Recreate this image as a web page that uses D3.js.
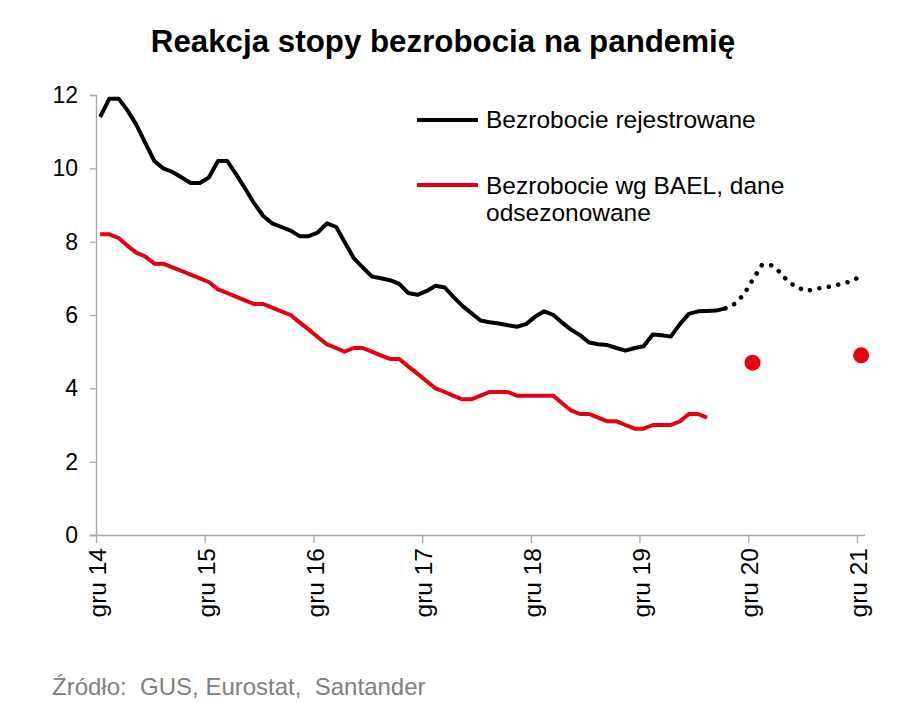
<!DOCTYPE html>
<html><head><meta charset="utf-8">
<script src="https://cdn.jsdelivr.net/npm/d3@7"></script>
<style>
body{margin:0;background:#fff;}
text{font-family:Arial,"Liberation Sans",sans-serif;}
</style></head>
<body><svg id="c" width="920" height="703"></svg>
<script>
// ---- data (monthly, first value = Dec 2014) ----
const startYear = 2014, startMonth = 11; // December 2014
const registered = [11.4,11.9,11.9,11.6,11.2,10.7,10.2,10.0,9.9,9.75,9.6,9.6,9.75,10.2,10.2,9.85,9.45,9.05,8.7,8.5,8.4,8.3,8.15,8.15,8.25,8.5,8.4,8.0,7.55,7.3,7.05,7.0,6.95,6.85,6.6,6.55,6.65,6.8,6.75,6.5,6.25,6.05,5.85,5.8,5.77,5.72,5.68,5.75,5.95,6.1,6.0,5.8,5.6,5.45,5.25,5.2,5.18,5.1,5.03,5.1,5.15,5.47,5.45,5.41,5.75,6.03,6.1,6.11,6.12,6.18];
// forecast, starts at month index 69 (Sep 2020)
const forecastStart = 69;
const registeredForecast = [6.18,6.3,6.55,6.95,7.36,7.36,7.18,6.9,6.75,6.65,6.72,6.75,6.8,6.86,6.93,7.07];
const bael = [8.2,8.2,8.1,7.9,7.7,7.6,7.4,7.4,7.3,7.2,7.1,7.0,6.9,6.7,6.6,6.5,6.4,6.3,6.3,6.2,6.1,6.0,5.8,5.6,5.4,5.2,5.1,5.0,5.1,5.1,5.0,4.9,4.8,4.8,4.6,4.4,4.2,4.0,3.9,3.8,3.7,3.7,3.8,3.9,3.9,3.9,3.8,3.8,3.8,3.8,3.8,3.6,3.4,3.3,3.3,3.2,3.1,3.1,3.0,2.9,2.9,3.0,3.0,3.0,3.1,3.3,3.3,3.2];
const baelForecastMonths = [72, 84]; // Dec 2020, Dec 2021
const baelForecast = [4.7, 4.9];
const xTickLabels = ["gru 14","gru 15","gru 16","gru 17","gru 18","gru 19","gru 20","gru 21"];
const yTicks = [0,2,4,6,8,10,12];
const title = "Reakcja stopy bezrobocia na pandemię";
const legendLabels = ["Bezrobocie rejestrowane", ["Bezrobocie wg BAEL, dane", "odsezonowane"]];
const source = "Źródło:  GUS, Eurostat,  Santander";

const RED = "#e3000f";
const monthDate = i => new Date(startYear, startMonth + i, 15);
const tickDates = xTickLabels.map((d, k) => new Date(startYear + k, 11, 1));

const svg = d3.select("#c");
const x = d3.scaleTime().domain([tickDates[0], tickDates[tickDates.length-1]]).range([96, 857]);
const y = d3.scaleLinear().domain([0, 12]).range([535, 95]);

// title
svg.append("text").attr("x", 443).attr("y", 52).attr("text-anchor","middle")
  .attr("font-size", 31.3).attr("font-weight","bold").attr("fill","#000").text(title);

// y axis
const yAxis = svg.append("g").attr("transform","translate(96,0)")
  .call(d3.axisLeft(y).tickValues(yTicks).tickSize(6).tickPadding(12).tickFormat(d3.format("d")));
yAxis.select(".domain").attr("stroke","#a6a6a6").attr("stroke-width",1.3);
yAxis.selectAll(".tick line").attr("stroke","#a6a6a6").attr("stroke-width",1.3);
yAxis.selectAll(".tick text").attr("font-size",23).attr("fill","#000").attr("font-family","Arial, 'Liberation Sans', sans-serif");

// x axis
const xAxis = svg.append("g").attr("transform","translate(0,535)")
  .call(d3.axisBottom(x).tickValues(tickDates).tickSize(8).tickSizeOuter(0)
    .tickFormat((d,i) => xTickLabels[i]));
xAxis.select(".domain").attr("stroke","#a6a6a6").attr("stroke-width",1.3).attr("d","M90,0.5H865");
xAxis.selectAll(".tick line").attr("stroke","#a6a6a6").attr("stroke-width",1.3);
xAxis.selectAll(".tick text").attr("font-size",24.5).attr("fill","#000")
  .attr("font-family","Arial, 'Liberation Sans', sans-serif")
  .attr("transform","rotate(-90)").attr("text-anchor","end")
  .attr("x",-13).attr("y",1).attr("dy","0.35em");

const line = d3.line().x(d => x(d.date)).y(d => y(d.v));

const regData = registered.map((v,i) => ({date: monthDate(i), v}));
const fcData = registeredForecast.map((v,i) => ({date: monthDate(forecastStart + i), v}));
const baelData = bael.map((v,i) => ({date: monthDate(i), v}));

svg.append("path").datum(baelData).attr("d", line).attr("fill","none")
  .attr("stroke", RED).attr("stroke-width", 4).attr("stroke-linejoin","round");
svg.append("path").datum(regData).attr("d", line).attr("fill","none")
  .attr("stroke", "#000").attr("stroke-width", 4).attr("stroke-linejoin","round");
svg.append("path").datum(fcData).attr("d", line).attr("fill","none")
  .attr("stroke", "#000").attr("stroke-width", 4.5).attr("stroke-linecap","round")
  .attr("stroke-dasharray","0.1 9.5");

svg.selectAll("circle.f").data(baelForecast).join("circle")
  .attr("cx", (d,i) => x(monthDate(baelForecastMonths[i])))
  .attr("cy", d => y(d)).attr("r", 8).attr("fill", RED);

// legend
const lg = svg.append("g");
lg.append("line").attr("x1",417).attr("x2",478).attr("y1",120).attr("y2",120)
  .attr("stroke","#000").attr("stroke-width",4);
lg.append("text").attr("x",486).attr("y",128).attr("font-size",24.5).attr("fill","#000").text(legendLabels[0]);
lg.append("line").attr("x1",417).attr("x2",478).attr("y1",185).attr("y2",185)
  .attr("stroke",RED).attr("stroke-width",4);
lg.append("text").attr("x",486).attr("y",194).attr("font-size",24.5).attr("fill","#000").text(legendLabels[1][0]);
lg.append("text").attr("x",486).attr("y",221).attr("font-size",24.5).attr("fill","#000").text(legendLabels[1][1]);

// source
svg.append("text").attr("x",52).attr("y",695).attr("font-size",24).attr("fill","#808080")
  .attr("xml:space","preserve").style("white-space","pre").text(source);
</script></body></html>
